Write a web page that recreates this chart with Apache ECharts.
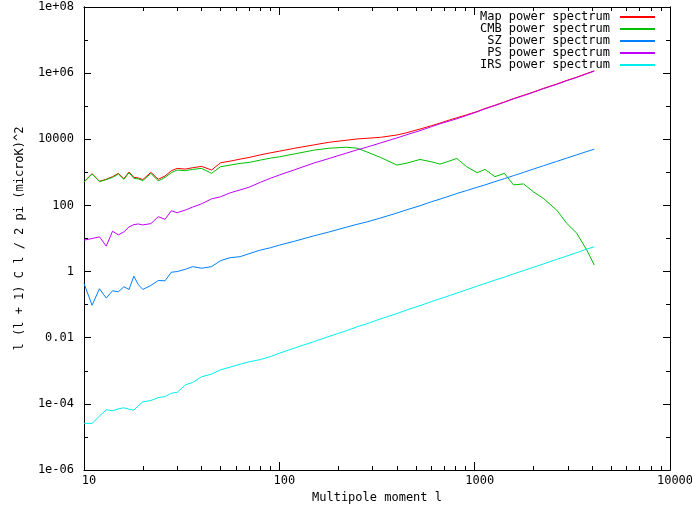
<!DOCTYPE html>
<html>
<head>
<meta charset="utf-8">
<script src="https://cdn.jsdelivr.net/npm/echarts@6/dist/echarts.min.js"></script>
<style>
html, body { margin: 0; padding: 0; background: #fff; }
#chart { width: 692px; height: 510px; }
</style>
</head>
<body>
<div id="chart"></div>
<script>
// multipole moments where the curves were read
const ell = [10, 11, 12, 13, 14, 15, 16, 17, 18, 19, 20,
  22, 24, 26, 28, 30, 33, 36, 40, 45, 50,
  56, 63, 70, 80, 90, 100, 120, 150, 180, 220,
  250, 280, 330, 400, 450, 525, 600, 665, 740, 810,
  910, 1030, 1130, 1270, 1420, 1580, 1780, 2000, 2250, 2630,
  2960, 3330, 3750, 4096]

const mapSpec = [513, 912, 537, 617, 741, 933, 646, 1023, 708, 676, 603,
  1000, 617, 776, 1122, 1318, 1259, 1380, 1514, 1175, 1950,
  2188, 2512, 2818, 3388, 3890, 4365, 5370, 6761, 8128, 9333,
  10233, 10715, 11482, 13490, 15849, 20417, 25704, 30903, 38019, 44668,
  54954, 69183, 85114, 107152, 134896, 169824, 213796, 269153, 346737, 467735,
  602560, 758578, 977237, 1174898]

const cmbSpec = [501, 891, 525, 603, 708, 891, 617, 977, 661, 631, 562,
  933, 550, 708, 977, 1175, 1122, 1230, 1318, 933, 1479,
  1660, 1862, 1995, 2344, 2692, 2951, 3631, 4677, 5370, 5754,
  5370, 4169, 2818, 1660, 1905, 2455, 2089, 1778, 2188, 2630,
  1479, 977, 1230, 741, 933, 417, 447, 257, 162, 72.4,
  28.8, 14.5, 4.47, 1.58]

const szSpec = [0.437, 0.0955, 0.302, 0.158, 0.263, 0.245, 0.347, 0.288, 0.724, 0.398, 0.288,
  0.380, 0.537, 0.525, 0.955, 1.00, 1.17, 1.41, 1.26, 1.41, 2.14,
  2.63, 2.82, 3.47, 4.47, 5.25, 6.31, 8.32, 12.0, 15.8, 21.9,
  26.9, 31.6, 41.7, 58.9, 74.1, 97.7, 129, 155, 191, 229,
  282, 355, 417, 525, 646, 794, 1000, 1259, 1585, 2138,
  2692, 3388, 4266, 5012]

const psSpec = [8.91, 10.0, 11.2, 5.89, 16.6, 12.9, 15.8, 22.4, 26.3, 27.5, 25.7,
  28.2, 45.7, 38.0, 69.2, 60.3, 72.4, 89.1, 112, 158, 182,
  240, 295, 355, 501, 661, 832, 1202, 1905, 2630, 3802,
  4786, 5754, 7762, 10965, 13804, 18197, 23988, 29512, 35481, 41687,
  52481, 67608, 83176, 104713, 131826, 165959, 208930, 263027, 338844, 457088,
  588844, 741310, 954993, 1148154]

const irsSpec = [2.57e-5, 2.57e-5, 4.27e-5, 6.61e-5, 6.17e-5, 7.08e-5, 7.59e-5, 6.92e-5, 6.46e-5, 8.91e-5, 1.15e-4,
  1.26e-4, 1.55e-4, 1.66e-4, 2.09e-4, 2.24e-4, 3.72e-4, 4.47e-4, 6.61e-4, 7.94e-4, 1.07e-3,
  1.29e-3, 1.58e-3, 1.86e-3, 2.19e-3, 2.69e-3, 3.39e-3, 4.90e-3, 7.59e-3, 0.0110, 0.0162,
  0.0214, 0.0263, 0.0372, 0.0537, 0.0692, 0.0933, 0.123, 0.151, 0.186, 0.224,
  0.282, 0.363, 0.437, 0.550, 0.676, 0.851, 1.07, 1.35, 1.70, 2.34,
  2.95, 3.72, 4.79, 5.62]

const seriesNames = ['Map power spectrum', 'CMB power spectrum', 'SZ power spectrum', 'PS power spectrum', 'IRS power spectrum']
const seriesColors = ['#ff0000', '#00c000', '#0080ff', '#c000ff', '#00eeee']

// tick labels (exponent -> text)
const xTickExp = [1, 2, 3, 4]
const xTickLabels = ['10', '100', '1000', '10000']
const yTickExp = [-6, -4, -2, 0, 2, 4, 6, 8]
const yTickLabels = ['1e-06', '1e-04', '0.01', '1', '100', '10000', '1e+06', '1e+08']

const font = 'DejaVu Sans Mono'
const txt = { fontFamily: font, fontSize: 12, color: '#000' }
const black = { color: '#000', width: 1 }

function labelFor (exps, labels) {
  return v => {
    const i = exps.indexOf(Math.round(Math.log10(v)))
    return i < 0 ? '' : labels[i]
  }
}

function xAxisOf (pos, main) {
  return {
    type: 'log',
    logBase: 10,
    min: 10,
    max: 10000,
    position: pos,
    name: main ? 'Multipole moment l' : '',
    nameLocation: 'middle',
    nameGap: 22,
    nameTextStyle: txt,
    axisLine: { show: true, lineStyle: black },
    axisTick: { show: true, inside: true, length: 8, lineStyle: black },
    minorTick: { show: true, splitNumber: 9, length: 4, lineStyle: black },
    axisLabel: main
      ? Object.assign({}, txt, { margin: 5, padding: [0, 0, 0, 10], formatter: labelFor(xTickExp, xTickLabels) })
      : { show: false },
    splitLine: { show: false },
    minorSplitLine: { show: false }
  }
}

function yAxisOf (pos, interval, tickLen, main) {
  return {
    type: 'log',
    logBase: 10,
    min: 1e-6,
    max: 1e8,
    interval: interval,
    position: pos,
    name: main ? 'l (l + 1) C l / 2 pi (microK)^2' : '',
    nameLocation: 'middle',
    nameGap: 58,
    nameTextStyle: txt,
    axisLine: { show: true, lineStyle: black },
    axisTick: { show: true, inside: true, length: tickLen, lineStyle: black },
    axisLabel: main
      ? Object.assign({}, txt, { margin: 10, formatter: labelFor(yTickExp, yTickLabels) })
      : { show: false },
    splitLine: { show: false }
  }
}

const values = [mapSpec, cmbSpec, szSpec, psSpec, irsSpec]

const chart = echarts.init(document.getElementById('chart'))
chart.setOption({
  animation: false,
  backgroundColor: '#fff',
  grid: { left: 84, right: 22, top: 7, bottom: 40, containLabel: false, outerBoundsMode: 'none' },
  legend: {
    orient: 'vertical',
    right: 37,
    top: 11,
    padding: 0,
    itemGap: 0,
    itemWidth: 35,
    itemHeight: 2,
    icon: 'rect',
    align: 'right',
    data: seriesNames,
    formatter: name => name.length < 18 ? ' ' + name : name,
    textStyle: Object.assign({}, txt, { lineHeight: 12, padding: [0, 5, 0, 0] })
  },
  xAxis: [xAxisOf('bottom', true), xAxisOf('top', false)],
  yAxis: [
    yAxisOf('left', 2, 7, true),
    yAxisOf('left', 1, 4, false),
    yAxisOf('right', 2, 7, false),
    yAxisOf('right', 1, 4, false)
  ],
  series: seriesNames.map((name, k) => ({
    name: name,
    type: 'line',
    xAxisIndex: 0,
    yAxisIndex: 0,
    symbol: 'none',
    color: seriesColors[k],
    lineStyle: { width: 1, color: seriesColors[k] },
    data: ell.map((l, i) => [l, values[k][i]])
  }))
})
</script>
</body>
</html>
